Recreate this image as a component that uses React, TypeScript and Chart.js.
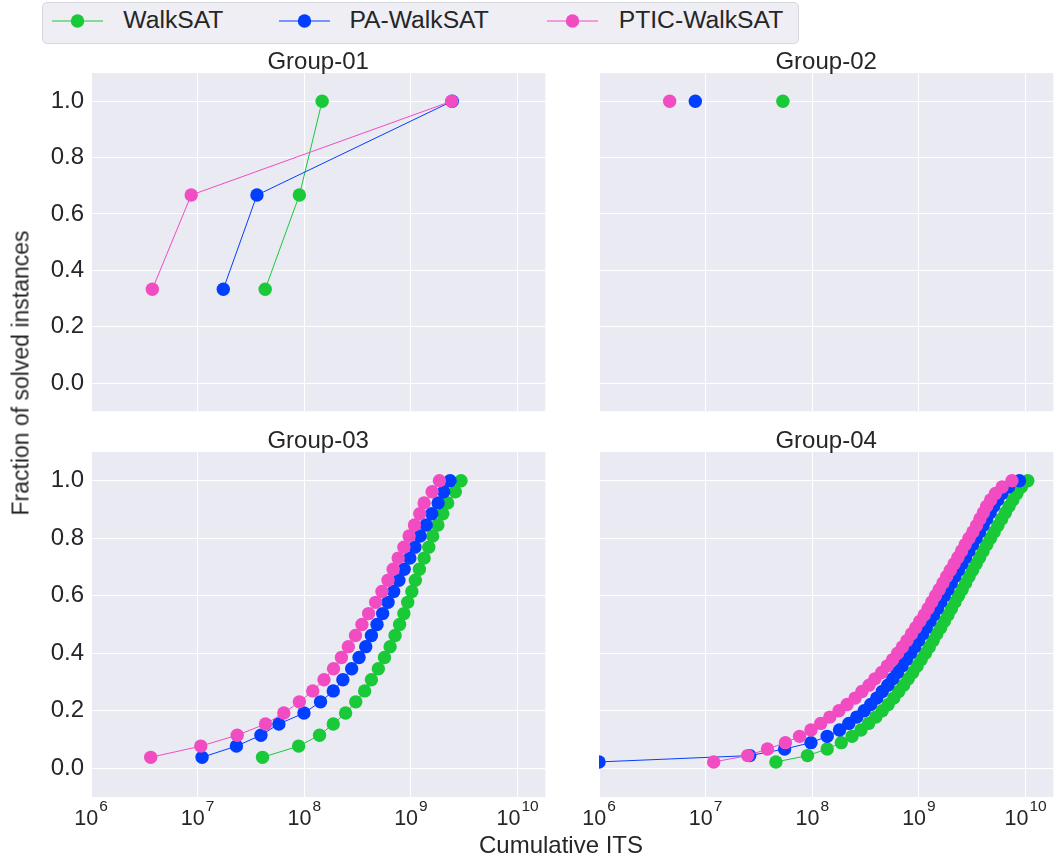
import React, { useEffect, useRef } from "react";
import { Chart, registerables } from "chart.js";

Chart.register(...registerables);

const FONT = '"Liberation Sans", Arial, Helvetica, sans-serif';
const TEXT = "#262626";
const PANEL_BG = "#EAEAF2";

// ---------- data ----------
const seriesNames = ["WalkSAT", "PA-WalkSAT", "PTIC-WalkSAT"];
const seriesColors = ["#1AC938", "#023EFF", "#F14CC1"];
const groupTitles = ["Group-01", "Group-02", "Group-03", "Group-04"];

const yTicks = [0, 0.2, 0.4, 0.6, 0.8, 1.0];
const yTickLabels = ["0.0", "0.2", "0.4", "0.6", "0.8", "1.0"];
const xTicks = [1e6, 1e7, 1e8, 1e9, 1e10];
const xTickExponents = ["6", "7", "8", "9", "10"];
const xMin = 1e6;
const xMax = 1.82e10;
const yMin = -0.1;
const yMax = 1.1;

// Group-01 (3 instances)
const g1Fractions = [0.333, 0.667, 1.0];
const g1WalkSAT = [4.3e7, 9.0e7, 1.47e8];
const g1PAWalkSAT = [1.74e7, 3.6e7, 2.44e9];
const g1PTICWalkSAT = [3.76e6, 8.7e6, 2.41e9];

// Group-02 (1 instance)
const g2Fractions = [1.0];
const g2WalkSAT = [5.3e7];
const g2PAWalkSAT = [8.0e6];
const g2PTICWalkSAT = [4.6e6];

// Group-03 (26 instances)
const g3Fractions = [
  0.038, 0.077, 0.115, 0.154, 0.192, 0.231, 0.269, 0.308, 0.346, 0.385, 0.423, 0.462, 0.5,
  0.538, 0.577, 0.615, 0.654, 0.692, 0.731, 0.769, 0.808, 0.846, 0.885, 0.923, 0.962, 1.0,
];
const g3WalkSAT = [
  4.06e7, 8.85e7, 1.39e8, 1.87e8, 2.44e8, 3.04e8, 3.68e8, 4.26e8, 4.95e8, 5.65e8, 6.38e8, 7.1e8, 7.83e8,
  8.59e8, 9.33e8, 1.02e9, 1.1e9, 1.2e9, 1.33e9, 1.47e9, 1.6e9, 1.79e9, 1.99e9, 2.21e9, 2.61e9, 2.95e9,
];
const g3PAWalkSAT = [
  1.1e7, 2.31e7, 3.92e7, 5.78e7, 9.93e7, 1.42e8, 1.87e8, 2.3e8, 2.78e8, 3.26e8, 3.77e8, 4.26e8, 4.81e8,
  5.43e8, 6.1e8, 6.89e8, 7.71e8, 8.65e8, 9.77e8, 1.09e9, 1.22e9, 1.39e9, 1.57e9, 1.8e9, 2.03e9, 2.33e9,
];
const g3PTICWalkSAT = [
  3.63e6, 1.07e7, 2.35e7, 4.33e7, 6.43e7, 8.99e7, 1.2e8, 1.53e8, 1.88e8, 2.23e8, 2.59e8, 3.02e8, 3.47e8,
  4.01e8, 4.67e8, 5.35e8, 6.1e8, 6.82e8, 7.6e8, 8.59e8, 9.62e8, 1.08e9, 1.21e9, 1.33e9, 1.58e9, 1.85e9,
];

// Group-04 (45 instances)
const g4Fractions = [
  0.022, 0.044, 0.067, 0.089, 0.111, 0.133, 0.156, 0.178, 0.2, 0.222, 0.244, 0.267, 0.289, 0.311, 0.333,
  0.356, 0.378, 0.4, 0.422, 0.444, 0.467, 0.489, 0.511, 0.533, 0.556, 0.578, 0.6, 0.622, 0.644, 0.667,
  0.689, 0.711, 0.733, 0.756, 0.778, 0.8, 0.822, 0.844, 0.867, 0.889, 0.911, 0.933, 0.956, 0.978, 1.0,
];
const g4WalkSAT = [
  4.56e7, 9.02e7, 1.38e8, 1.87e8, 2.36e8, 2.86e8, 3.37e8, 3.94e8, 4.53e8, 5.15e8, 5.81e8, 6.46e8, 7.18e8,
  7.94e8, 8.75e8, 9.62e8, 1.05e9, 1.15e9, 1.25e9, 1.36e9, 1.47e9, 1.6e9, 1.73e9, 1.87e9, 2.02e9, 2.18e9,
  2.35e9, 2.54e9, 2.74e9, 2.95e9, 3.18e9, 3.44e9, 3.71e9, 4.0e9, 4.33e9, 4.68e9, 5.07e9, 5.5e9, 5.96e9,
  6.46e9, 7.0e9, 7.59e9, 8.28e9, 9.12e9, 1.05e10,
];
const g4PAWalkSAT = [
  1.0e6, 2.59e7, 5.5e7, 9.72e7, 1.38e8, 1.8e8, 2.2e8, 2.61e8, 3.07e8, 3.53e8, 4.02e8, 4.53e8, 5.11e8,
  5.68e8, 6.28e8, 6.93e8, 7.62e8, 8.34e8, 9.1e8, 9.91e8, 1.08e9, 1.17e9, 1.27e9, 1.37e9, 1.49e9, 1.6e9,
  1.73e9, 1.87e9, 2.01e9, 2.17e9, 2.34e9, 2.53e9, 2.73e9, 2.94e9, 3.18e9, 3.43e9, 3.7e9, 3.99e9, 4.31e9,
  4.65e9, 5.02e9, 5.46e9, 6.0e9, 6.92e9, 8.77e9,
];
const g4PTICWalkSAT = [
  1.19e7, 2.48e7, 3.8e7, 5.6e7, 7.6e7, 9.72e7, 1.2e8, 1.46e8, 1.78e8, 2.12e8, 2.52e8, 2.92e8, 3.41e8,
  3.87e8, 4.47e8, 5.05e8, 5.68e8, 6.32e8, 7.0e8, 7.73e8, 8.51e8, 9.33e8, 1.02e9, 1.12e9, 1.22e9, 1.32e9,
  1.43e9, 1.55e9, 1.68e9, 1.82e9, 1.97e9, 2.14e9, 2.32e9, 2.51e9, 2.72e9, 2.95e9, 3.2e9, 3.47e9, 3.73e9,
  4.02e9, 4.32e9, 4.7e9, 5.22e9, 6.03e9, 7.45e9,
];

// ---------- layout ----------
type Box = { left: number; top: number; width: number; height: number };
type PanelSpec = {
  title: string;
  fractions: number[];
  values: number[][];
  showX: boolean;
  showY: boolean;
  box: Box;
  yAxisWidth: number;
  xAxisHeight: number;
};

const TITLE_SPACE = 29;

const panels: PanelSpec[] = [
  {
    title: groupTitles[0],
    fractions: g1Fractions,
    values: [g1WalkSAT, g1PAWalkSAT, g1PTICWalkSAT],
    showX: false,
    showY: true,
    box: { left: 0, top: 44, width: 552, height: 374 },
    yAxisWidth: 91,
    xAxisHeight: 0,
  },
  {
    title: groupTitles[1],
    fractions: g2Fractions,
    values: [g2WalkSAT, g2PAWalkSAT, g2PTICWalkSAT],
    showX: false,
    showY: false,
    box: { left: 565, top: 44, width: 495, height: 374 },
    yAxisWidth: 34,
    xAxisHeight: 0,
  },
  {
    title: groupTitles[2],
    fractions: g3Fractions,
    values: [g3WalkSAT, g3PAWalkSAT, g3PTICWalkSAT],
    showX: true,
    showY: true,
    box: { left: 0, top: 423, width: 552, height: 439 },
    yAxisWidth: 91,
    xAxisHeight: 65,
  },
  {
    title: groupTitles[3],
    fractions: g4Fractions,
    values: [g4WalkSAT, g4PAWalkSAT, g4PTICWalkSAT],
    showX: true,
    showY: false,
    box: { left: 565, top: 423, width: 495, height: 439 },
    yAxisWidth: 34,
    xAxisHeight: 65,
  },
];

const bgPlugin = {
  id: "panelBg",
  beforeDraw(chart: any) {
    const { ctx, chartArea: a } = chart;
    ctx.save();
    ctx.fillStyle = PANEL_BG;
    ctx.fillRect(a.left, a.top, a.right - a.left, a.bottom - a.top);
    ctx.restore();
  },
};

function makeTitlePlugin(text: string) {
  return {
    id: "panelTitle",
    afterDraw(chart: any) {
      const { ctx, chartArea: a } = chart;
      ctx.save();
      ctx.fillStyle = TEXT;
      ctx.font = `24px ${FONT}`;
      ctx.textAlign = "center";
      ctx.textBaseline = "alphabetic";
      ctx.fillText(text, (a.left + a.right) / 2, a.top - 4);
      ctx.restore();
    },
  };
}

function makeExpTickPlugin(enabled: boolean) {
  return {
    id: "expTicks",
    afterDraw(chart: any) {
      if (!enabled) return;
      const xs = chart.scales.x;
      const ctx = chart.ctx;
      const baseY = chart.chartArea.bottom + 28;
      ctx.save();
      ctx.fillStyle = TEXT;
      ctx.textBaseline = "alphabetic";
      ctx.textAlign = "left";
      xTicks.forEach((v, i) => {
        const px = xs.getPixelForValue(v);
        ctx.font = `21.5px ${FONT}`;
        const wb = ctx.measureText("10").width;
        ctx.font = `15.5px ${FONT}`;
        const we = ctx.measureText(xTickExponents[i]).width;
        const start = px - (wb + we + 1) / 2;
        ctx.font = `21.5px ${FONT}`;
        ctx.fillText("10", start, baseY);
        ctx.font = `15.5px ${FONT}`;
        ctx.fillText(xTickExponents[i], start + wb + 1, baseY - 14);
      });
      ctx.restore();
    },
  };
}

function Panel({ spec }: { spec: PanelSpec }) {
  const ref = useRef<HTMLCanvasElement>(null);
  useEffect(() => {
    if (!ref.current) return;
    const datasets = seriesNames.map((name, i) => ({
      label: name,
      data: spec.values[i].map((x, k) => ({ x, y: spec.fractions[k] })),
      borderColor: seriesColors[i],
      backgroundColor: seriesColors[i],
      borderWidth: 1,
      pointRadius: 6.7,
      pointHoverRadius: 6.7,
      pointBorderWidth: 0,
      pointBackgroundColor: seriesColors[i],
      tension: 0,
      order: 3 - i,
      clip: 0,
    }));
    const chart = new Chart(ref.current, {
      type: "line",
      data: { datasets },
      plugins: [bgPlugin, makeTitlePlugin(spec.title), makeExpTickPlugin(spec.showX)],
      options: {
        responsive: false,
        animation: false,
        events: [],
        layout: { padding: { top: TITLE_SPACE, left: 0, right: 0, bottom: 0 } },
        plugins: {
          legend: { display: false },
          tooltip: { enabled: false },
          title: { display: false },
        },
        scales: {
          x: {
            type: "logarithmic",
            min: xMin,
            max: xMax,
            afterBuildTicks: (s: any) => {
              s.ticks = xTicks.map((v) => ({ value: v }));
            },
            afterFit: (s: any) => {
              s.height = spec.xAxisHeight;
              s.paddingLeft = 0;
              s.paddingRight = 0;
            },
            ticks: { display: false },
            grid: { color: "#FFFFFF", lineWidth: 1, drawTicks: false },
            border: { display: false },
          },
          y: {
            type: "linear",
            min: yMin,
            max: yMax,
            afterBuildTicks: (s: any) => {
              s.ticks = yTicks.map((v) => ({ value: v }));
            },
            afterFit: (s: any) => {
              s.width = spec.yAxisWidth;
              s.paddingTop = 0;
              s.paddingBottom = 0;
            },
            ticks: {
              display: spec.showY,
              color: TEXT,
              padding: 7,
              font: { family: FONT, size: 24 },
              callback: (_v: any, idx: number) => yTickLabels[idx],
            },
            grid: { color: "#FFFFFF", lineWidth: 1, drawTicks: false },
            border: { display: false },
          },
        },
      } as any,
    });
    return () => chart.destroy();
  }, [spec]);
  const b = spec.box;
  return (
    <canvas
      ref={ref}
      width={b.width}
      height={b.height}
      style={{ position: "absolute", left: b.left, top: b.top, width: b.width, height: b.height }}
    />
  );
}

// legend item placement (px inside the legend box)
const legendHandleLeft = [8.7, 235.8, 503.5];
const legendTextLeft = [80.3, 306.4, 575.7];

function Legend() {
  return (
    <div
      style={{
        position: "absolute",
        left: 42,
        top: 2,
        width: 757,
        height: 42,
        boxSizing: "border-box",
        background: "#EEEEF4",
        border: "1px solid #D6D6DD",
        borderRadius: 5,
        fontFamily: FONT,
        fontSize: 24.7,
        lineHeight: 1,
        color: TEXT,
        whiteSpace: "nowrap",
      }}
    >
      {seriesNames.map((n, i) => (
        <React.Fragment key={n}>
          <svg
            width={51}
            height={20}
            style={{ position: "absolute", left: legendHandleLeft[i], top: 7.5, display: "block" }}
          >
            <line x1={0} y1={10} x2={51} y2={10} stroke={seriesColors[i]} strokeWidth={1} />
            <circle cx={25.5} cy={10} r={6.7} fill={seriesColors[i]} />
          </svg>
          <span style={{ position: "absolute", left: legendTextLeft[i], top: 5.4 }}>{n}</span>
        </React.Fragment>
      ))}
    </div>
  );
}

export default function App() {
  return (
    <div
      style={{
        position: "absolute",
        left: 0,
        top: 0,
        width: 1060,
        height: 862,
        overflow: "hidden",
        background: "#FFFFFF",
      }}
    >
      {panels.map((p) => (
        <Panel key={p.title} spec={p} />
      ))}
      <Legend />
      <div
        style={{
          position: "absolute",
          left: 20.5,
          top: 373,
          transform: "translate(-50%, -50%) rotate(-90deg)",
          whiteSpace: "nowrap",
          fontFamily: FONT,
          fontSize: 23,
          lineHeight: 1,
          color: TEXT,
        }}
      >
        Fraction of solved instances
      </div>
      <div
        style={{
          position: "absolute",
          left: 561,
          top: 845,
          transform: "translate(-50%, -50%)",
          whiteSpace: "nowrap",
          fontFamily: FONT,
          fontSize: 24,
          lineHeight: 1,
          color: TEXT,
        }}
      >
        Cumulative ITS
      </div>
    </div>
  );
}
